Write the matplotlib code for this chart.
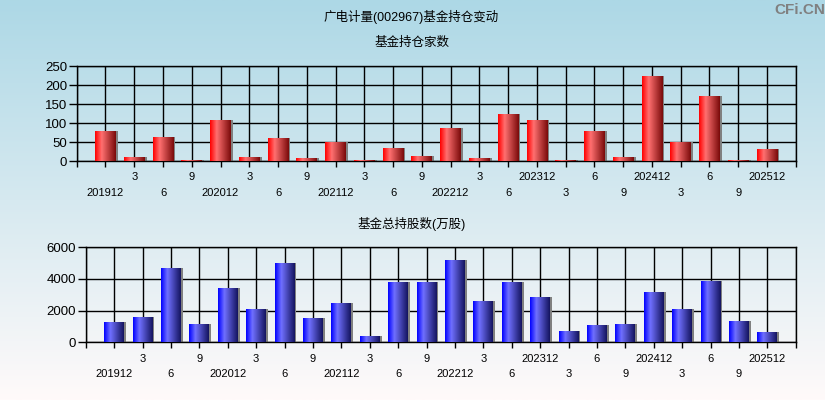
import numpy as np
import matplotlib
matplotlib.use('Agg')
import matplotlib.pyplot as plt
from matplotlib.colors import LinearSegmentedColormap

plt.rcParams['font.family'] = ['Liberation Sans', 'Noto Sans CJK SC', 'DejaVu Sans']

# report periods (one label per bar)
periods = ['201912', '3', '6', '9', '202012', '3', '6', '9', '202112', '3', '6', '9',
           '202212', '3', '6', '202312', '3', '6', '9', '202412', '3', '6', '9', '202512']
# number of funds holding
fund_count = [80, 11, 64, 3, 109, 11, 61, 9, 51, 3, 35, 14,
              88, 9, 125, 109, 3, 80, 11, 225, 51, 172, 3, 32]
# total shares held by funds (10k shares)
fund_shares = [1280, 1600, 4690, 1160, 3430, 2100, 5000, 1540, 2480, 400, 3810, 3810,
               5200, 2610, 3810, 2860, 720, 1090, 1160, 3180, 2100, 3870, 1350, 650]

red_cmap = LinearSegmentedColormap.from_list('red3d', [(0, '#ff0000'), (0.32, '#ff7070'), (1, '#7a0a0a')])
blue_cmap = LinearSegmentedColormap.from_list('blue3d', [(0, '#0000ff'), (0.32, '#7070ff'), (1, '#14145f')])

fig = plt.figure(figsize=(8.25, 4.0), dpi=100)

# background gradient
bg = fig.add_axes([0, 0, 1, 1], zorder=-10)
top = np.array([173, 216, 230]) / 255
bot = np.array([255, 250, 250]) / 255
t = np.linspace(0, 1, 256).reshape(-1, 1, 1)
bg.imshow(top * (1 - t) + bot * t, aspect='auto', extent=[0, 1, 0, 1])
bg.set_axis_off()


def gradient_bars(ax, values, cmap, width):
    x = np.arange(1, len(values) + 1)
    ax.bar(x + 0.07, values, width, color='#808080', zorder=2)
    bars = ax.bar(x, values, width, color='none', zorder=3)
    grad = np.linspace(0, 1, 100).reshape(1, -1)
    for b in bars:
        bx, by, bw, bh = b.get_x(), b.get_y(), b.get_width(), b.get_height()
        im = ax.imshow(grad, cmap=cmap, aspect='auto', zorder=3,
                       extent=[bx, bx + bw, by, by + bh])
        im.set_clip_path(b)


def setup_axes(ax, ymax, ystep):
    n = len(periods)
    ax.set_facecolor('none')
    ax.set_xlim(0, n + 1)
    ax.set_ylim(0, ymax)
    ax.set_yticks(np.arange(0, ymax + 1, ystep))
    lower = [i + 1 for i in range(n) if i % 2 == 0]
    upper = [0] + [i + 1 for i in range(n) if i % 2 == 1] + [n + 1]
    ax.set_xticks(lower)
    ax.set_xticklabels([periods[p - 1] for p in lower])
    ax.set_xticks(upper, minor=True)
    ax.set_xticklabels([''] + [periods[p - 1] for p in upper[1:-1]] + [''], minor=True)
    ax.tick_params(axis='x', which='major', length=4, width=1, pad=15.5, labelsize=8)
    ax.tick_params(axis='x', which='minor', length=4, width=1, pad=4, labelsize=8)
    ax.tick_params(axis='y', length=6, width=1, pad=1, labelsize=9.5)
    ax.xaxis.grid(True, which='both', color='black', lw=1)
    ax.yaxis.grid(True, which='major', color='black', lw=1)
    ax.set_axisbelow(True)
    for s in ax.spines.values():
        s.set_color('black')
        s.set_linewidth(1)


ax1 = fig.add_axes([0.093, 0.597, 0.8715, 0.237])
gradient_bars(ax1, fund_count, red_cmap, 0.72)
setup_axes(ax1, 250, 50)

ax2 = fig.add_axes([0.1039, 0.144, 0.8606, 0.238])
gradient_bars(ax2, fund_shares, blue_cmap, 0.7)
setup_axes(ax2, 6000, 2000)

fig.text(0.4988, 0.9575, '广电计量(002967)基金持仓变动', ha='center', va='center', fontsize=9)
fig.text(0.4988, 0.8925, '基金持仓家数', ha='center', va='center', fontsize=9)
fig.text(0.4988, 0.44, '基金总持股数(万股)', ha='center', va='center', fontsize=9)
fig.text(0.97, 0.976, 'CFi.CN', ha='center', va='center', fontsize=11,
         fontweight='bold', color='#808080')

fig.savefig('out.png', dpi=100)
